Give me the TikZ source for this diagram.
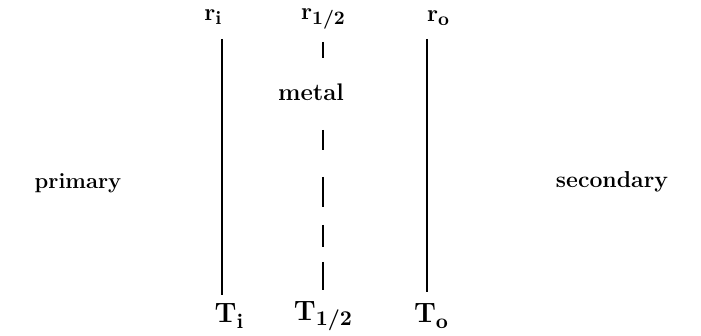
\documentclass[tikz,border=0pt]{standalone}
\newcommand{\lsub}[1]{\raisebox{-2.2pt}{\fontsize{9.5}{10}\selectfont #1}}
\newcommand{\tsub}[1]{\raisebox{-2.6pt}{\fontsize{10.5}{11}\selectfont #1}}
\begin{document}
\begin{tikzpicture}[x=0.5pt,y=-0.5pt,
  lab/.style={inner sep=0pt,font=\bfseries\fontsize{12}{14}\selectfont},
  tlab/.style={inner sep=0pt,font=\bfseries\fontsize{14}{16}\selectfont},
  wall/.style={line width=1.1pt}]
\useasboundingbox (0,0) rectangle (701,336);
% labels
\node[lab] (ri) at (213,17) {r\lsub{i}};
\node[lab] (rh) at (323,19) {r\lsub{1/2}};
\node[lab] (ro) at (438,18) {r\lsub{o}};
\node[lab] (metal) at (311,92) {metal};
\node[lab,font=\bfseries\fontsize{11}{13}\selectfont] (prim) at (78,183) {primary};
\node[lab,font=\bfseries\fontsize{11.5}{13}\selectfont] (sec) at (612,182) {secondary};
\node[tlab] (Ti) at (229,316) {T\tsub{i}};
\node[tlab] (Th) at (323,316) {T\tsub{1/2}};
\node[tlab] (To) at (431,316) {T\tsub{o}};
% walls
\coordinate (a1) at (222,39); \coordinate (a2) at (222,295);
\coordinate (c1) at (427,39); \coordinate (c2) at (427,292);
\draw[wall] (a1) -- (a2);
\draw[wall] (c1) -- (c2);
% dashed mid-plane
\draw[wall] (323,42) -- (323,58)
            (323,130) -- (323,150)
            (323,177) -- (323,207)
            (323,225) -- (323,247)
            (323,262) -- (323,290);
\end{tikzpicture}
\end{document}
